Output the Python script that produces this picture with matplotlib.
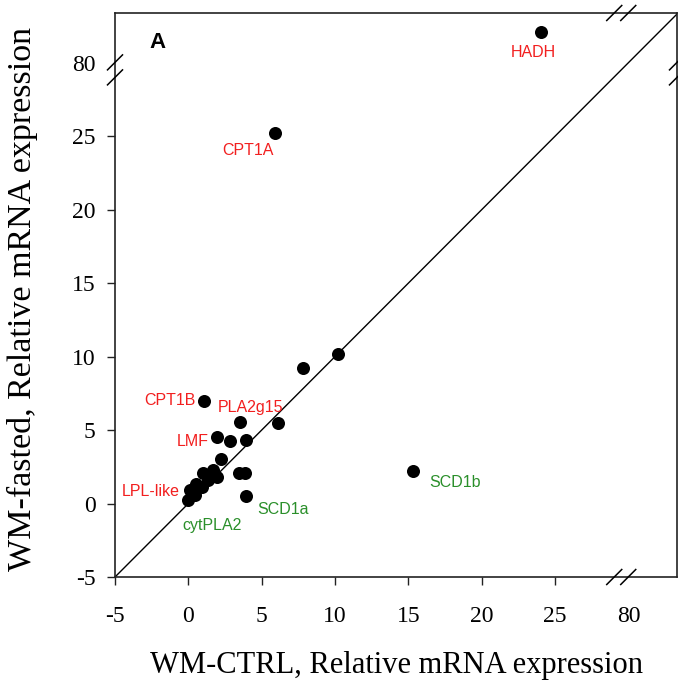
import numpy as np
import matplotlib
matplotlib.use("Agg")
import matplotlib.pyplot as plt

# ---------------- data ----------------
x_ctrl = [24.06, 5.93, 10.20, 7.84, 1.09, 6.13, 3.52, 1.98, 3.95, 2.86, 2.25,
          3.48, 3.89, 15.34, 3.95, 0.00, 0.14, 0.48, 0.95, 1.02, 1.36, 1.70,
          1.98, 0.55]
y_fasted = [82.1, 25.2, 10.17, 9.2, 6.97, 5.48, 5.54, 4.52, 4.32, 4.25, 3.03,
            2.07, 2.07, 2.21, 0.51, 0.24, 0.92, 0.58, 1.12, 2.07, 1.60, 2.28,
            1.80, 1.33]

gene_names = ["HADH", "CPT1A", "CPT1B", "PLA2g15", "LMF", "LPL-like",
              "cytPLA2", "SCD1a", "SCD1b"]
gene_point = [0, 1, 4, 6, 7, 16, 15, 14, 13]
gene_group = ["up", "up", "up", "up", "up", "up", "down", "down", "down"]
# label offsets (points) relative to the point
gene_offset = [(-5.8, -15.1), (-20, -12.2), (-24.5, 0.7), (7.2, 10.8),
               (-18, -2.9), (-28.8, -1.4), (17.3, -18.7), (26.6, -9.4),
               (30.2, -8.6)]

tick_vals = [-5, 0, 5, 10, 15, 20, 25, 80]
tick_labels = ["-5", "0", "5", "10", "15", "20", "25", "80"]

group_color = {"up": "#f21f1f", "down": "#2a8f2a"}

# ---------------- broken scale ----------------
def fwd(v):
    v = np.asarray(v, dtype=float)
    return np.where(v > 54.5, v - 50.0, v)

def inv(d):
    d = np.asarray(d, dtype=float)
    return np.where(d > 29.5, d + 50.0, d)

fig = plt.figure(figsize=(6.78, 6.94), dpi=100)
W, H = 562.0, 564.0
ax = fig.add_axes([115 / 678, 1 - 577 / 694, W / 678, H / 694])
ax.set_xscale("function", functions=(fwd, inv))
ax.set_yscale("function", functions=(fwd, inv))
ax.set_xlim(-5, 83.3)
ax.set_ylim(-5, 83.37)

# identity line
ax.plot([-5, 83.3], [-5, 83.3], color="black", lw=1.0, zorder=2)

ax.scatter(x_ctrl, y_fasted, s=88, color="black", zorder=3, linewidths=0)

for name, idx, grp, off in zip(gene_names, gene_point, gene_group, gene_offset):
    ax.annotate(name, (x_ctrl[idx], y_fasted[idx]), xytext=off,
                textcoords="offset points", ha="center", va="center",
                fontsize=11.5, color=group_color[grp],
                family=["Liberation Sans", "DejaVu Sans"])

ax.set_xticks(tick_vals)
ax.set_xticklabels(tick_labels)
ax.set_yticks(tick_vals)
ax.set_yticklabels(tick_labels)
ax.xaxis.get_major_ticks()[-1].tick1line.set_visible(False)
ax.yaxis.get_major_ticks()[-1].tick1line.set_visible(False)
ax.minorticks_off()
ax.tick_params(direction="out", length=6, width=1.0, color="#222222",
               labelsize=17, top=False, right=False)
ax.tick_params(axis="x", pad=15)
ax.tick_params(axis="y", pad=8)
for lab in ax.get_xticklabels() + ax.get_yticklabels():
    lab.set_family(["Liberation Serif", "DejaVu Serif"])

for sp in ax.spines.values():
    sp.set_linewidth(1.2)
    sp.set_color("#222222")

# break marks
xb = (29.5 + 5) / (33.3 + 5)
yb = (29.5 + 5) / (33.37 + 5)
hx, hy = 7.5 / W, 7.5 / H
for c in (xb - 7 / W, xb + 7 / W):
    for yy in (0.0, 1.0):
        ax.plot([c - hx, c + hx], [yy - hy, yy + hy], transform=ax.transAxes,
                color="black", lw=1.1, clip_on=False, zorder=5)
for c in (yb - 7.5 / H, yb + 7.5 / H):
    for xx in (0.0, 1.0):
        ax.plot([xx - hx, xx + hx], [c - hy, c + hy], transform=ax.transAxes,
                color="black", lw=1.1, clip_on=False, zorder=5)

ax.text((157 - 115) / W, (577 - 42) / H, "A", transform=ax.transAxes,
        ha="center", va="center", fontsize=16, fontweight="bold",
        family=["Liberation Sans", "DejaVu Sans"])

ax.set_xlabel("WM-CTRL, Relative mRNA expression", fontsize=22,
              family=["Liberation Serif", "DejaVu Serif"])
ax.set_ylabel("WM-fasted, Relative mRNA expression", fontsize=24.5,
              family=["Liberation Serif", "DejaVu Serif"])
ax.xaxis.label.set_va("center")
ax.yaxis.label.set_va("center")
ax.xaxis.set_label_coords(0.5, (577 - 666) / H)
ax.yaxis.set_label_coords((22 - 115) / W, (577 - 299) / H)

fig.savefig("out.png", dpi=100)
